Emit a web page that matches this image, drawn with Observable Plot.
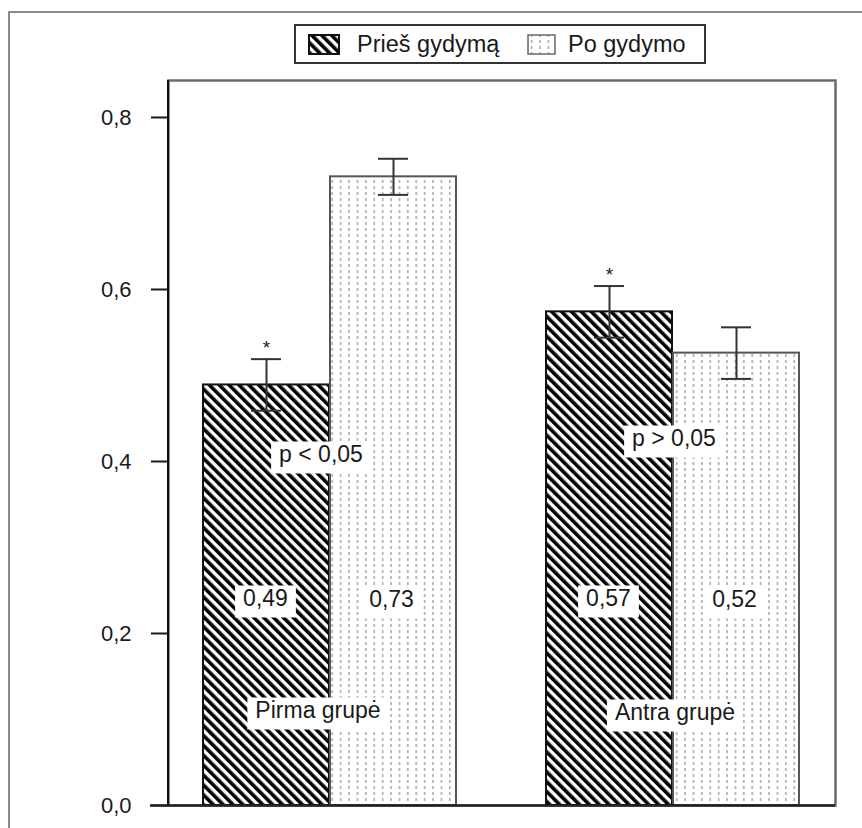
<!DOCTYPE html>
<html>
<head>
<meta charset="utf-8">
<script src="https://cdn.jsdelivr.net/npm/d3@7"></script>
<script src="https://cdn.jsdelivr.net/npm/@observablehq/plot@0.6"></script>
<style>
  html, body { margin: 0; padding: 0; background: #fff; }
  #wrap { position: relative; width: 862px; height: 828px; overflow: hidden; font-family: "Liberation Sans", Arial, sans-serif; }
  #outer { position: absolute; left: 8px; top: 11px; width: 900px; height: 900px; border-left: 2px solid #8a8a8a; border-top: 2px solid #8a8a8a; pointer-events: none; }
  #legend { position: absolute; left: 294px; top: 24px; width: 408px; height: 36px; border: 2px solid #333; background: #fff; }
  #legend .sw { position: absolute; top: 8px; }
  #legend .lt { position: absolute; top: 5px; font-size: 23.5px; color: #1a1a1a; line-height: 26px; white-space: nowrap; }
  [aria-label^="y-axis"] path, [aria-label^="y-axis"] line { stroke-width: 2px; }
</style>
</head>
<body>
<div id="wrap">
  <div id="chart"></div>
  <div id="outer"></div>
  <div id="legend">
    <svg class="sw" style="left:12px" width="32" height="21"><rect x="1" y="1" width="30" height="19" fill="url(#lhatch)" stroke="#111" stroke-width="2"/>
      <defs><pattern id="lhatch" patternUnits="userSpaceOnUse" width="7" height="7" patternTransform="rotate(-45)"><rect width="7" height="7" fill="#fff"/><rect width="3.6" height="7" fill="#000"/></pattern></defs></svg>
    <span class="lt" id="lt1" style="left:61px"></span>
    <svg class="sw" style="left:231px" width="29" height="21"><rect x="1" y="1" width="27" height="19" fill="url(#ldots)" stroke="#666" stroke-width="1.5"/>
      <defs><pattern id="ldots" patternUnits="userSpaceOnUse" width="8.4" height="6"><rect width="8.4" height="6" fill="#fff"/><rect x="4" width="1.3" height="3" fill="#999"/></pattern></defs></svg>
    <span class="lt" id="lt2" style="left:272px"></span>
  </div>
</div>
<script>
// ---- data ----
const groups = ["Pirma grupė", "Antra grupė"];
const seriesNames = ["Prieš gydymą", "Po gydymo"];
const before = [0.489, 0.574];
const after = [0.731, 0.526];
const beforeErr = [0.030, 0.030];
const afterErr = [0.021, 0.030];
const beforeLabels = ["0,49", "0,57"];
const afterLabels = ["0,73", "0,52"];
const beforeMarks = ["*", "*"];
const pLabels = ["p < 0,05", "p > 0,05"];
const yTicks = [0, 0.2, 0.4, 0.6, 0.8];
const yMax = 0.843;

document.getElementById("lt1").textContent = seriesNames[0];
document.getElementById("lt2").textContent = seriesNames[1];

const table = groups.map((g, i) => ({
  group: g,
  before: before[i], after: after[i],
  bLo: before[i] - beforeErr[i], bHi: before[i] + beforeErr[i],
  aLo: after[i] - afterErr[i], aHi: after[i] + afterErr[i],
  bLabel: beforeLabels[i], aLabel: afterLabels[i],
  mark: beforeMarks[i], p: pLabels[i]
}));

// layout
const W = 862, H = 828, mL = 168, mR = 27, mT = 80, mB = 23;
const PI = 0.2616, PO = 0.1003;
const step = (W - mL - mR) / (groups.length - PI + 2 * PO);
const bw = step * (1 - PI);
const half = bw / 2, q = bw / 4, cap = 31;
const capIn = (half - cap) / 2;
const fmt = d => d.toFixed(1).replace(".", ",");
const errStyle = {stroke: "#333", strokeWidth: 2};
const lab = {fontSize: 23, fill: "#1a1a1a"};

const node = Plot.plot({
  width: W, height: H,
  marginLeft: mL, marginRight: mR, marginTop: mT, marginBottom: mB,
  style: {fontFamily: "'Liberation Sans', Arial, sans-serif", fontSize: "22px", color: "#1a1a1a", background: "transparent", overflow: "visible"},
  x: {domain: groups, paddingInner: PI, paddingOuter: PO, align: 0.5, axis: null},
  y: {domain: [0, yMax], ticks: yTicks, tickSize: 17, tickPadding: 20, tickFormat: fmt, label: null},
  marks: [
    Plot.frame({stroke: "#6a6a6a", strokeWidth: 2.5}),
    Plot.barY(table, {x: "group", y: "before", fill: "url(#hatch)", stroke: "#111", strokeWidth: 2, insetRight: half}),
    Plot.barY(table, {x: "group", y: "after", fill: "url(#dots)", stroke: "#555", strokeWidth: 2, insetLeft: half}),
    Plot.ruleY([0], {stroke: "#222", strokeWidth: 2.5, insetLeft: -18}),
    // error bars
    Plot.ruleX(table, {x: "group", y1: "bLo", y2: "bHi", dx: -q, ...errStyle}),
    Plot.ruleX(table, {x: "group", y1: "aLo", y2: "aHi", dx: q, ...errStyle}),
    Plot.tickY(table, {x: "group", y: "bHi", insetLeft: capIn, insetRight: half + capIn, ...errStyle}),
    Plot.tickY(table, {x: "group", y: "bLo", insetLeft: capIn, insetRight: half + capIn, ...errStyle}),
    Plot.tickY(table, {x: "group", y: "aHi", insetLeft: half + capIn, insetRight: capIn, ...errStyle}),
    Plot.tickY(table, {x: "group", y: "aLo", insetLeft: half + capIn, insetRight: capIn, ...errStyle}),
    // significance asterisks
    Plot.text(table, {x: "group", y: "bHi", text: "mark", dx: -q, dy: -11, fontSize: 19, fill: "#222"}),
    // value labels
    Plot.text(table, {x: "group", text: "bLabel", frameAnchor: "bottom", dy: -200, dx: -q - 1, ...lab}),
    Plot.text(table, {x: "group", text: "aLabel", frameAnchor: "bottom", dy: -199, dx: q - 2, ...lab}),
    // group labels
    Plot.text(table, {filter: d => d.group === groups[0], x: "group", text: "group", frameAnchor: "bottom", dy: -88, dx: -12, ...lab}),
    Plot.text(table, {filter: d => d.group === groups[1], x: "group", text: "group", frameAnchor: "bottom", dy: -86, dx: 2, ...lab}),
    // p-value labels
    Plot.text(table, {filter: d => d.group === groups[0], x: "group", text: "p", frameAnchor: "bottom", dy: -344, dx: -9, ...lab}),
    Plot.text(table, {filter: d => d.group === groups[1], x: "group", text: "p", frameAnchor: "bottom", dy: -360, dx: 1, ...lab})
  ]
});

document.getElementById("chart").appendChild(node);
const svg = node.tagName.toLowerCase() === "svg" ? node : node.querySelector("svg");

// patterns
d3.select(svg).insert("defs", ":first-child").html(`
  <pattern id="hatch" patternUnits="userSpaceOnUse" width="7" height="7" patternTransform="rotate(-45)">
    <rect width="7" height="7" fill="#fff"/><rect width="3.6" height="7" fill="#000"/>
  </pattern>
  <pattern id="dots" patternUnits="userSpaceOnUse" width="8.4" height="6">
    <rect width="8.4" height="6" fill="#fff"/><rect x="4" width="1.3" height="3" fill="#999"/>
  </pattern>`);

// white boxes behind annotation texts
const boxed = new Set([...beforeLabels, ...afterLabels, ...groups, ...pLabels]);
Array.from(svg.querySelectorAll("text")).forEach(function(el) {
  if (!boxed.has(el.textContent.trim())) return;
  const b = el.getBBox();
  const r = document.createElementNS("http://www.w3.org/2000/svg", "rect");
  r.setAttribute("x", b.x - 8); r.setAttribute("y", b.y + 1);
  r.setAttribute("width", b.width + 16); r.setAttribute("height", b.height + 6);
  r.setAttribute("fill", "#fff");
  const t = el.getAttribute("transform");
  if (t) r.setAttribute("transform", t);
  el.parentNode.insertBefore(r, el);
});

// left axis line (black)
d3.select(svg).append("line")
  .attr("x1", mL).attr("x2", mL).attr("y1", mT).attr("y2", H - mB)
  .attr("stroke", "#111").attr("stroke-width", 2);
</script>
</body>
</html>
